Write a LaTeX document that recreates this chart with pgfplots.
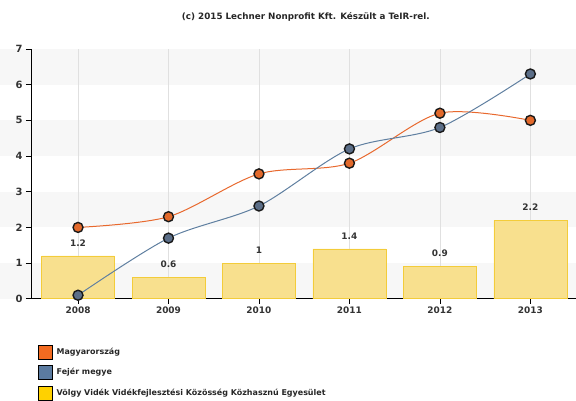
\documentclass[border=0pt]{standalone}
\usepackage{fontspec}
\setmainfont{DejaVu Sans}
\usepackage{pgfplots}
\pgfplotsset{compat=1.18}

\definecolor{hun}{HTML}{E8692E}
\definecolor{hunmark}{HTML}{E2692B}
\definecolor{fej}{HTML}{5F7FA0}
\definecolor{fejmark}{HTML}{5B6E88}
\definecolor{barfill}{HTML}{F8E08E}
\definecolor{baredge}{HTML}{F3CC3A}
\definecolor{band}{HTML}{F7F7F7}
\definecolor{legorange}{HTML}{F26B21}
\definecolor{legblue}{HTML}{5B7BA0}
\definecolor{legyellow}{HTML}{FFD100}

\pgfplotsset{sqlegend/.style={legend image code/.code={\fill[##1] (0bp,-7bp) rectangle (14bp,7bp);}}}

\begin{document}
\begin{tikzpicture}
\path (0,0) rectangle (576bp,400bp);

\node[font=\fontsize{8.8}{10}\selectfont\bfseries, text=black!85] at (306bp,383bp)
  {(c) 2015 Lechner Nonprofit Kft. Készült a TeIR-rel.};

\begin{axis}[
    set layers,
    /pgf/number format/assume math mode=true,
    at={(31bp,101bp)}, anchor=south west,
    scale only axis,
    width=545bp, height=250bp,
    xmin=-0.52, xmax=5.5,
    ymin=0, ymax=7,
    xtick={0,1,2,3,4,5},
    xticklabels={2008,2009,2010,2011,2012,2013},
    ytick={0,1,2,3,4,5,6,7},
    axis x line*=bottom,
    axis y line*=left,
    axis line style={black, line width=0.8bp},
    tick style={black, line width=0.6bp},
    tick align=outside,
    major tick length=5bp,
    xmajorgrids=true,
    major grid style={black!12, line width=0.6bp},
    xticklabel style={font=\fontsize{9}{10}\selectfont\bfseries, text=black!80},
    yticklabel style={font=\fontsize{10}{11}\selectfont\bfseries, text=black!80},
    legend style={at={(0.013,-0.184)}, anchor=north west, draw=none, fill=none,
        inner sep=0pt, row sep=6bp,
        nodes={inner xsep=4bp, inner ysep=0bp},
        font=\fontsize{8}{9}\selectfont\bfseries, text=black!85},
    legend cell align=left,
]
\begin{pgfonlayer}{axis background}
\fill[band] (axis cs:-1,0) rectangle (axis cs:6,1);
\fill[band] (axis cs:-1,2) rectangle (axis cs:6,3);
\fill[band] (axis cs:-1,4) rectangle (axis cs:6,5);
\fill[band] (axis cs:-1,6) rectangle (axis cs:6,7);
\end{pgfonlayer}

\addlegendimage{sqlegend, fill=legorange}
\addlegendentry{Magyarország}
\addlegendimage{sqlegend, fill=legblue}
\addlegendentry{Fejér megye}
\addlegendimage{sqlegend, fill=legyellow}
\addlegendentry{Völgy Vidék Vidékfejlesztési Közösség Közhasznú Egyesület}

% Völgy Vidék
\addplot[ybar, bar width=73bp, fill=barfill, draw=baredge, line width=0.6bp,
    nodes near coords,
    nodes near coords style={font=\fontsize{9}{10}\selectfont\bfseries, text=black!80, yshift=6bp},
    forget plot]
    coordinates {(0,1.2)(1,0.6)(2,1)(3,1.4)(4,0.9)(5,2.2)};

% Magyarország
\addplot[smooth, color=hun, line width=1bp, mark=*, mark size=5bp,
    mark options={fill=hunmark, draw=black!90, line width=1.4bp}, forget plot]
    coordinates {(0,2.0)(1,2.3)(2,3.5)(3,3.8)(4,5.2)(5,5.0)};

% Fejér megye
\addplot[smooth, color=fej, line width=1bp, mark=*, mark size=5bp,
    mark options={fill=fejmark, draw=black!90, line width=1.4bp}, forget plot]
    coordinates {(0,0.1)(1,1.7)(2,2.6)(3,4.2)(4,4.8)(5,6.3)};
\end{axis}
\end{tikzpicture}
\end{document}
